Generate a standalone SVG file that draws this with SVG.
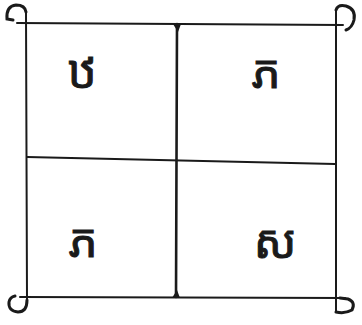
<svg xmlns="http://www.w3.org/2000/svg" width="362" height="325" viewBox="0 0 362 325">
<style>
.ln{fill:none;stroke:#1a1a1a;stroke-width:2;stroke-linecap:round;stroke-linejoin:round}
.hk{fill:none;stroke:#1a1a1a;stroke-width:3;stroke-linecap:round}
.t{font-family:"Noto Sans Khmer","Khmer OS","DejaVu Sans","Noto Sans",sans-serif;font-size:46px;fill:#1a1a1a;stroke:#1a1a1a;stroke-width:1;text-anchor:middle}
</style>
<rect width="362" height="325" fill="#fff"/>
<g id="connectors">
<path class="ln" d="M17,23 L343,25"/>
<path class="ln" d="M20,297 L345,298"/>
<path class="ln" d="M26,12 L27,300"/>
<path class="ln" d="M336,10 L336,312"/>
<path class="ln" d="M27,157 L335,164"/>
<path class="ln" d="M177,24 L176,297" style="stroke-width:2.6"/>
<path fill="#1a1a1a" d="M173,24 L181,24 L178,32 Z"/>
<path fill="#1a1a1a" d="M172,298 L180,298 L177,290 Z"/>
<path class="hk" d="M26,12 Q25,5 16,5 Q6,6 7,19 L13,20"/>
<path class="hk" d="M336,10 Q338,4 346,6 Q356,9 354,20 Q352,28 346,30"/>
<path class="hk" d="M27,300 Q27,312 18,312 Q8,311 9,302 Q10,297 15,296"/>
<path class="hk" d="M336,312 Q345,314 352,310 Q356,302 348,299 L340,298"/>
</g>
<g id="n1"><text class="t" x="82" y="88">ឋ</text></g>
<g id="n2"><text class="t" x="266" y="88">ភ</text></g>
<g id="n3"><text class="t" x="83" y="257">ភ</text></g>
<g id="n4"><text class="t" x="275" y="258">ស</text></g>
</svg>
